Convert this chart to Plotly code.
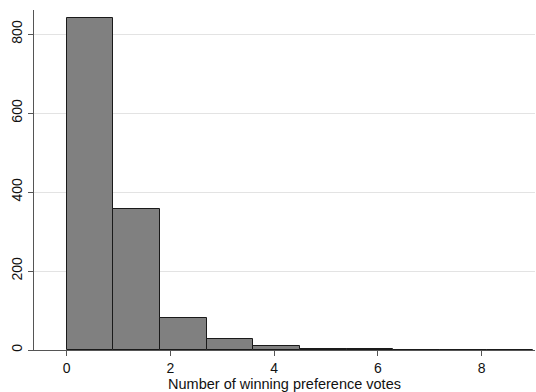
import plotly.graph_objects as go

bin_start = 0.0
bin_width = 0.9
counts = [842, 356, 80, 27, 9, 3, 3, 0, 0, 1]
centers = [bin_start + bin_width * (i + 0.5) for i in range(len(counts))]
y_ticks = [0, 200, 400, 600, 800]
x_ticks = [0, 2, 4, 6, 8]

fig = go.Figure(go.Bar(
    x=centers, y=counts, width=bin_width,
    marker=dict(color="#808080", line=dict(color="#1a1a1a", width=1)),
))
fig.update_layout(
    width=536, height=392,
    margin=dict(l=34, r=1, t=10, b=42, autoexpand=False),
    paper_bgcolor="white", plot_bgcolor="white",
    font=dict(family="Liberation Sans, Arial, sans-serif", size=14, color="#111"),
    showlegend=False, bargap=0,
)
fig.update_xaxes(
    range=[-0.63, 9.03], tickvals=x_ticks, ticks="outside", ticklen=5,
    tickcolor="#555", showline=True, linecolor="#555", linewidth=1,
    showgrid=False, zeroline=False, tickfont=dict(size=14),
    title=dict(text="Number of winning preference votes", standoff=0, font=dict(size=14.5)),
)
fig.update_yaxes(
    range=[0, 861], tickvals=y_ticks, ticks="outside", ticklen=5,
    tickcolor="#555", showline=True, linecolor="#555", linewidth=1,
    showgrid=True, gridcolor="#e3e3e3", gridwidth=1, zeroline=False,
    tickangle=-90, tickfont=dict(size=14),
)
fig.write_html("out.html", config={"displayModeBar": False},
               post_script="document.body.style.margin='0';document.body.style.padding='0';")
